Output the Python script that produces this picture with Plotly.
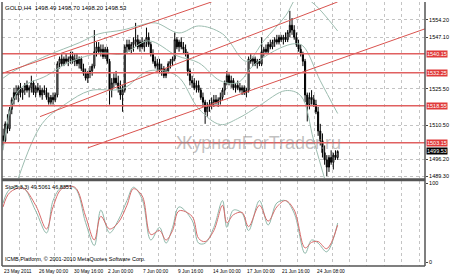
import plotly.graph_objects as go

# ---------------- data ----------------
bar_open = [1506,1504,1511,1509,1517,1521,1524,1523,1526,1524,1525,1527,1525,1526,1528,1524,1526,1525,1523,1525,
            1524,1522,1520,1522,1521,1523,1536,1538,1536,1538,1537,1538,1539,1537,1538,1536,1538,1534,1532,1530,
            1532,1533,1535,1541,1543,1541,1542,1539,1542,1537,1525,1528,1530,1528,1526,1523,1525,1543,1544,1542,
            1544,1545,1546,1543,1545,1543,1545,1547,1544,1540,1537,1535,1536,1533,1534,1531,1533,1536,1537,1538,
            1546,1543,1545,1543,1542,1540,1533,1529,1528,1526,1527,1525,1522,1520,1516,1518,1519,1520,1521,1520,
            1521,1522,1525,1528,1531,1528,1529,1526,1527,1526,1525,1526,1524,1525,1538,1537,1538,1536,1537,1536,
            1541,1542,1541,1544,1543,1545,1546,1545,1547,1546,1547,1546,1549,1552,1550,1547,1544,1542,1540,1537,
            1523,1519,1522,1521,1519,1516,1508,1504,1499,1496,1493,1497,1495,1498,1497]
bar_high = [1509,1512,1515,1518,1522,1526,1527,1527,1528,1526,1528,1529,1527,1531,1529,1527,1528,1527,1526,1527,
            1526,1524,1523,1524,1524,1537,1539,1540,1539,1540,1539,1541,1541,1540,1540,1539,1539,1536,1534,1533,
            1535,1536,1550,1545,1545,1544,1544,1543,1543,1538,1530,1532,1533,1531,1529,1527,1544,1546,1546,1545,
            1547,1553,1548,1546,1547,1546,1551,1549,1545,1542,1539,1538,1538,1536,1535,1534,1537,1538,1539,1549,
            1547,1546,1547,1545,1544,1541,1534,1531,1530,1529,1529,1526,1524,1521,1520,1521,1522,1523,1523,1522,
            1524,1526,1529,1533,1532,1531,1530,1528,1529,1528,1527,1527,1526,1539,1540,1539,1539,1538,1538,1547,
            1543,1544,1545,1546,1546,1547,1548,1548,1548,1548,1549,1550,1558,1555,1552,1549,1546,1544,1541,1538,
            1524,1524,1525,1523,1521,1518,1511,1507,1502,1498,1498,1500,1499,1500,1500]
bar_low = [1502,1503,1507,1508,1515,1519,1521,1520,1522,1521,1523,1524,1522,1524,1523,1522,1524,1522,1521,1523,
           1521,1519,1519,1519,1520,1522,1534,1535,1535,1536,1535,1536,1536,1535,1535,1534,1533,1531,1529,1528,
           1530,1531,1534,1539,1540,1539,1538,1538,1536,1519,1522,1526,1527,1524,1521,1516,1524,1540,1541,1540,
           1541,1543,1542,1541,1542,1541,1543,1543,1539,1536,1534,1533,1532,1531,1530,1530,1532,1534,1535,1537,
           1542,1541,1542,1540,1539,1531,1527,1526,1525,1524,1524,1521,1518,1511,1514,1516,1517,1518,1519,1518,
           1519,1521,1523,1527,1527,1526,1525,1524,1525,1524,1523,1523,1522,1524,1536,1535,1535,1534,1535,1535,
           1539,1540,1540,1542,1542,1543,1544,1544,1545,1544,1545,1545,1547,1548,1546,1543,1541,1539,1535,1520,
           1512,1517,1519,1518,1515,1506,1502,1497,1494,1489.3,1491,1494,1492,1496,1496]
bar_close = [1504,1511,1509,1517,1521,1524,1523,1526,1524,1525,1527,1525,1526,1528,1524,1526,1525,1523,1525,1524,
             1522,1520,1522,1521,1523,1536,1538,1536,1538,1537,1538,1539,1537,1538,1536,1538,1534,1532,1530,1532,
             1533,1535,1541,1543,1541,1542,1539,1542,1537,1525,1528,1530,1528,1526,1523,1525,1543,1544,1542,1544,
             1545,1546,1543,1545,1543,1545,1547,1544,1540,1537,1535,1536,1533,1534,1531,1533,1536,1537,1538,1546,
             1543,1545,1543,1542,1540,1533,1529,1528,1526,1527,1525,1522,1520,1516,1518,1519,1520,1521,1520,1521,
             1522,1525,1528,1531,1528,1529,1526,1527,1526,1525,1526,1524,1525,1538,1537,1538,1536,1537,1536,1541,
             1542,1541,1544,1543,1545,1546,1545,1547,1546,1547,1546,1549,1552,1550,1547,1544,1542,1540,1537,1523,
             1519,1522,1521,1519,1516,1508,1504,1499,1496,1493,1497,1495,1498,1497,1499.53]

# Bollinger bands (sampled along the chart)
bbu_x = [0, 5, 20, 35, 44, 55, 62, 70, 81, 90, 101, 112, 120, 130, 136, 142, 154]
bb_upper = [1530, 1533, 1539.3, 1544.7, 1548.4, 1550, 1551.7, 1553, 1548.8, 1551.7, 1548.4, 1537, 1545.5,
            1555.9, 1564, 1561.7, 1549.6]
bbm_x = [0, 7, 20, 30, 45, 55, 67, 80, 90, 100, 108, 115, 125, 134, 138, 146, 154]
bb_mid = [1500, 1524.8, 1531, 1536.4, 1540.5, 1540, 1545.5, 1539.3, 1536.4, 1528.9, 1528.1, 1535.1, 1541.4,
          1544.3, 1543.4, 1528.9, 1515.3]
bbl_x = [7, 18, 29, 40, 55, 67, 80, 90, 100, 108, 118, 130, 137, 143, 149]
bb_lower = [1488.3, 1511.1, 1519.4, 1524.8, 1525.6, 1533, 1531, 1517.3, 1510.7, 1513.2, 1518.6, 1524.8,
            1522.7, 1504, 1485]

# Stochastic (5,3,3)
sto_x = [0, 3, 9, 15, 20, 23, 27, 33, 38, 42, 45, 49, 53, 57, 60, 64, 68, 72, 75, 78, 81, 87, 90, 93, 97,
         101, 103, 106, 110, 113, 118, 122, 126, 130, 134, 139, 142, 145, 149, 154]
sto_main = [75, 92, 95, 65, 37, 78, 95, 94, 50, 21, 66, 37, 53, 78, 95, 80, 28, 44, 24, 44, 70, 53, 24, 24, 44,
            78, 44, 66, 62, 40, 78, 47, 75, 78, 62, 11, 28, 24, 13, 49.5]
sto_signal = [70, 88, 94, 72, 42, 70, 93, 95, 58, 28, 58, 42, 50, 72, 93, 84, 35, 40, 28, 40, 65, 58, 30, 26, 40,
              72, 50, 60, 63, 45, 72, 52, 70, 78, 66, 18, 25, 26, 17, 46.8]

# Horizontal levels and channel rays
h_levels = [1540.15, 1532.25, 1518.55, 1503.15]
h_level_text = ["1540.15", "1532.25", "1518.55", "1503.15"]
ray_x0 = [-1, 17, 39]
ray_y0 = [1531.8, 1514.0, 1501.0]
ray_x1 = [96, 154, 194.2]
ray_y1 = [1561.7, 1561.7, 1550.5]

price_ticks = [1554.20, 1547.10, 1525.50, 1510.50, 1496.20, 1489.30]
price_tick_text = ["1554.20", "1547.10", "1525.50", "1510.50", "1496.20", "1489.30"]
last_price = 1499.53

time_grid = [-0.5 + 8 * k for k in range(25)]
time_label_x = [-0.5, 15.5, 31.5, 47.5, 63.5, 79.5, 95.5, 111.5, 127.5, 143.5]
time_labels = ["23 May 2011", "26 May 00:00", "30 May 16:00", "2 Jun 00:00", "7 Jun 00:00",
               "9 Jun 16:00", "14 Jun 00:00", "17 Jun 00:00", "21 Jun 16:00", "24 Jun 08:00"]

# ---------------- figure ----------------
FONT = "Liberation Sans"
fig = go.Figure()
idx = list(range(len(bar_close)))

band_col = "#9dbdb0"
for bx, by in ((bbu_x, bb_upper), (bbm_x, bb_mid), (bbl_x, bb_lower)):
    fig.add_trace(go.Scatter(x=bx, y=by, mode="lines", line=dict(color=band_col, width=1, shape="spline"),
                             hoverinfo="skip"))

for i in range(len(ray_x0)):
    fig.add_trace(go.Scatter(x=[ray_x0[i], ray_x1[i]], y=[ray_y0[i], ray_y1[i]], mode="lines",
                             line=dict(color="#d9534f", width=1), hoverinfo="skip"))

fig.add_trace(go.Candlestick(
    x=idx, open=bar_open, high=bar_high, low=bar_low, close=bar_close,
    increasing=dict(line=dict(color="#000000", width=1), fillcolor="#ffffff"),
    decreasing=dict(line=dict(color="#000000", width=1), fillcolor="#000000"),
    whiskerwidth=0, hoverinfo="skip"))

fig.add_trace(go.Scatter(x=sto_x, y=sto_main, mode="lines", xaxis="x2", yaxis="y2",
                         line=dict(color="#8fb8aa", width=1, shape="spline"), hoverinfo="skip"))
fig.add_trace(go.Scatter(x=sto_x, y=sto_signal, mode="lines", xaxis="x2", yaxis="y2",
                         line=dict(color="#d86a6a", width=1, shape="spline"), hoverinfo="skip"))

X_RANGE = [-0.5, 194.2]
grid = dict(showgrid=True, gridcolor="#c4c4c4", griddash="dot", gridwidth=1)
fig.update_layout(
    width=450, height=276, margin=dict(l=2, r=22, t=1, b=10),
    paper_bgcolor="white", plot_bgcolor="white", showlegend=False,
    font=dict(family=FONT, size=6, color="#000000"),
    xaxis=dict(domain=[0, 1], range=X_RANGE, anchor="y", tickmode="array", tickvals=time_grid,
               showticklabels=False, ticks="", zeroline=False, rangeslider=dict(visible=False), **grid),
    yaxis=dict(domain=[0.332, 1], range=[1488.33, 1561.66], side="right", tickmode="array",
               tickvals=price_ticks, ticktext=price_tick_text, ticks="outside", ticklen=2,
               tickcolor="#444", zeroline=False, tickfont=dict(size=5.5), **grid),
    xaxis2=dict(domain=[0, 1], range=X_RANGE, anchor="y2", tickmode="array", tickvals=time_grid,
                showticklabels=False, ticks="", zeroline=False, **grid),
    yaxis2=dict(domain=[0, 0.3208], range=[-5, 102.5], side="right", tickmode="array",
                tickvals=[100, 0], ticktext=["100", "0"], ticks="outside", ticklen=2, tickcolor="#444",
                zeroline=False, showgrid=False, tickfont=dict(size=5.5)),
)

shapes = []
for lv in h_levels:
    shapes.append(dict(type="line", xref="paper", x0=0, x1=1, yref="y", y0=lv, y1=lv,
                       line=dict(color="#e06060", width=1.5)))
# frames
shapes.append(dict(type="line", xref="paper", yref="paper", x0=0, x1=1, y0=0.3264, y1=0.3264,
                   line=dict(color="#555555", width=3)))
shapes.append(dict(type="line", xref="paper", yref="paper", x0=0, x1=1, y0=0, y1=0,
                   line=dict(color="#555555", width=1.5)))
shapes.append(dict(type="line", xref="paper", yref="paper", x0=0, x1=0, y0=0, y1=1,
                   line=dict(color="#555555", width=1.5)))
shapes.append(dict(type="line", xref="paper", yref="paper", x0=1, x1=1, y0=0, y1=1,
                   line=dict(color="#555555", width=1.5)))
fig.update_layout(shapes=shapes)

ann = []
for lx, lt in zip(time_label_x, time_labels):
    ann.append(dict(x=lx, y=0, xref="x2", yref="paper", text=lt, showarrow=False, xanchor="left",
                    yanchor="top", yshift=-1, font=dict(size=4.8, family=FONT)))
for lv, lt in zip(h_levels, h_level_text):
    ann.append(dict(x=1, y=lv, xref="paper", yref="y", text=lt, showarrow=False, xanchor="left",
                    xshift=1, bgcolor="#e03a3a", font=dict(size=5.5, color="white", family=FONT), borderpad=0))
ann.append(dict(x=1, y=last_price, xref="paper", yref="y", text="1499.53", showarrow=False, xanchor="left",
                xshift=1, bgcolor="#000000", font=dict(size=5.5, color="white", family=FONT), borderpad=0))
ann.append(dict(x=0, y=1, xref="paper", yref="paper", text="GOLD,H4  1498.49 1498.70 1498.20 1498.53",
                showarrow=False, xanchor="left", yanchor="top", xshift=1, yshift=-1,
                font=dict(size=6, family=FONT)))
ann.append(dict(x=0, y=0.3208, xref="paper", yref="paper", text="Sto(5,3,3) 49.5061 46.8351",
                showarrow=False, xanchor="left", yanchor="top", xshift=1, yshift=-1,
                font=dict(size=5.5, family=FONT)))
ann.append(dict(x=0, y=0, xref="paper", yref="paper",
                text="ICMB Platform, © 2001-2010 MetaQuotes Software Corp.",
                showarrow=False, xanchor="left", yanchor="bottom", xshift=1, yshift=2,
                font=dict(size=5.5, family=FONT)))
ann.append(dict(x=0.805, y=1503, xref="paper", yref="y", text="ЖурналForTrader.ru", showarrow=False,
                font=dict(size=18, color="rgba(140,140,140,0.55)", family=FONT)))
fig.update_layout(annotations=ann)

fig.write_html("out.html")
